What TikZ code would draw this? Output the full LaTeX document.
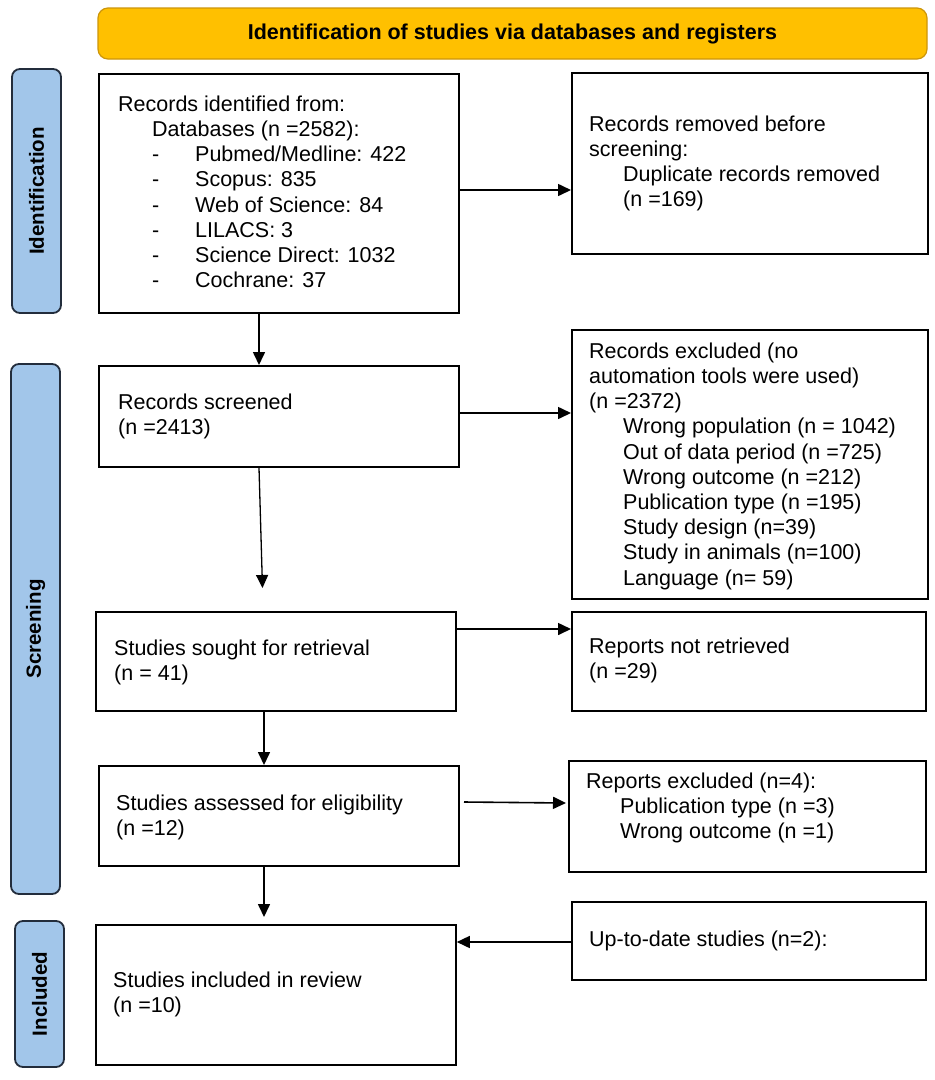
\documentclass[tikz,border=0pt]{standalone}
\usepackage{fontspec}
\setmainfont{Liberation Sans}
\usetikzlibrary{arrows.meta}
\definecolor{bannerfill}{RGB}{255,192,0}
\definecolor{bannerdraw}{RGB}{205,150,10}
\definecolor{labfill}{RGB}{162,198,234}
\definecolor{labdraw}{RGB}{35,45,60}
\begin{document}
\begin{tikzpicture}[x=1pt,y=-1pt,
  box/.style={draw=black, line width=1.8pt, inner sep=0pt, anchor=north west},
  txt/.style={inner sep=0pt, anchor=north west, align=left, font=\fontsize{21.5}{25.2}\selectfont},
  lab/.style={draw=labdraw, fill=labfill, line width=1.8pt, rounded corners=8pt, inner sep=0pt, rotate=90, font=\bfseries\fontsize{20.5}{24}\selectfont},
  banner/.style={draw=bannerdraw, fill=bannerfill, line width=1.2pt, rounded corners=10pt, inner sep=0pt, font=\bfseries\fontsize{21.5}{25}\selectfont},
  arr/.style={line width=1.6pt, -{Triangle[length=13pt,width=12pt]}}]
\useasboundingbox[fill=white] (0,0) rectangle (935,1080);

% banner
\node[banner, minimum width=829pt, minimum height=51pt] (top) at (512.5,33.5) {Identification of studies via databases and registers};

% side labels
\node[lab, minimum width=244pt, minimum height=49pt] (l1) at (36.5,191) {Identification};
\node[lab, minimum width=530pt, minimum height=49pt] (l2) at (35.5,629) {Screening};
\node[lab, minimum width=146pt, minimum height=49pt] (l3) at (39.5,994) {Included};

% boxes
\node[box, minimum width=360pt, minimum height=239pt] (b1) at (98,73) {};
\node[box, minimum width=356pt, minimum height=181pt] (r1) at (571,72) {};
\node[box, minimum width=360pt, minimum height=101pt] (b2) at (98,365) {};
\node[box, minimum width=356pt, minimum height=269pt] (r2) at (571,329) {};
\node[box, minimum width=360pt, minimum height=99pt] (b3) at (95,611) {};
\node[box, minimum width=354pt, minimum height=99pt] (r3) at (571,611) {};
\node[box, minimum width=360pt, minimum height=100pt] (b4) at (98,765) {};
\node[box, minimum width=357pt, minimum height=111pt] (r4) at (568,760) {};
\node[box, minimum width=360pt, minimum height=140pt] (b5) at (95,924) {};
\node[box, minimum width=354pt, minimum height=78pt] (r5) at (571,901) {};

% texts
\node[txt] (t1) at (118,93.5) {\strut Records identified from:\\
\hspace*{34pt}Databases (n =2582):\\
\hspace*{34pt}\makebox[43pt][l]{-}Pubmed/Medline: 422\\
\hspace*{34pt}\makebox[43pt][l]{-}Scopus: 835\\
\hspace*{34pt}\makebox[43pt][l]{-}Web of Science: 84\\
\hspace*{34pt}\makebox[43pt][l]{-}LILACS: 3\\
\hspace*{34pt}\makebox[43pt][l]{-}Science Direct: 1032\\
\hspace*{34pt}\makebox[43pt][l]{-}Cochrane: 37};
\node[txt] (tr1) at (589,113.5) {\strut Records removed before\\
screening:\\
\hspace*{34pt}Duplicate records removed\\
\hspace*{34pt}(n =169)};
\node[txt] (t2) at (118,391.5) {\strut Records screened\\(n =2413)};
\node[txt] (tr2) at (589,340.5) {\strut Records excluded (no\\
automation tools were used)\\
(n =2372)\\
\hspace*{34pt}Wrong population (n = 1042)\\
\hspace*{34pt}Out of data period (n =725)\\
\hspace*{34pt}Wrong outcome (n =212)\\
\hspace*{34pt}Publication type (n =195)\\
\hspace*{34pt}Study design (n=39)\\
\hspace*{34pt}Study in animals (n=100)\\
\hspace*{34pt}Language (n= 59)};
\node[txt] (t3) at (114,637.5) {\strut Studies sought for retrieval\\(n = 41)};
\node[txt] (tr3) at (589,635.5) {\strut Reports not retrieved\\(n =29)};
\node[txt] (t4) at (116,792.5) {\strut Studies assessed for eligibility\\(n =12)};
\node[txt] (tr4) at (586,770.5) {\strut Reports excluded (n=4):\\
\hspace*{34pt}Publication type (n =3)\\
\hspace*{34pt}Wrong outcome (n =1)};
\node[txt] (t5) at (113,969.5) {\strut Studies included in review\\(n =10)};
\node[txt] (tr5) at (589,928.5) {\strut Up-to-date studies (n=2):};

% connectors
\coordinate (e23) at (262.5,588);
\draw[arr] (b1.east |- 0,190) -- (r1.west |- 0,190);
\draw[arr] (b1.south -| 259,0) -- (b2.north -| 259,0);
\draw[arr] (b2.east |- 0,413) -- (r2.west |- 0,413);
\draw[arr, line width=1.3pt] (b2.south -| 259,0) -- (e23);
\draw[arr] (b3.east |- 0,629) -- (r3.west |- 0,629);
\draw[arr] (b3.south -| 264,0) -- (b4.north -| 264,0);
\coordinate (s45) at (464,802);
\coordinate (e45) at (566,803);
\draw[arr] (s45) -- (e45);
\coordinate (e5) at (264,917);
\draw[arr] (b4.south -| 264,0) -- (e5);
\draw[arr] (r5.west |- 0,942) -- (b5.east |- 0,942);
\end{tikzpicture}
\end{document}
